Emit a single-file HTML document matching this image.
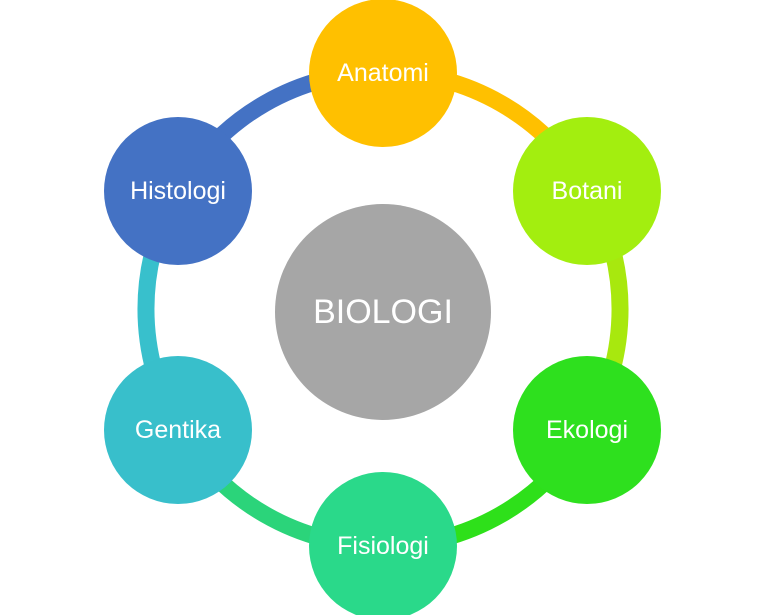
<!DOCTYPE html>
<html><head><meta charset="utf-8"><style>
html,body{margin:0;padding:0;background:#fff;}
svg{display:block}
text{font-family:"Liberation Sans",sans-serif;fill:#fff;text-anchor:middle;dominant-baseline:central}
</style></head><body>
<svg width="768" height="615" viewBox="0 0 768 615">
<g fill="none" stroke-width="17">
<path d="M383 72 A237 237 0 0 1 588 190" stroke="#FFC000"/>
<path d="M588 190 A237 237 0 0 1 588 428" stroke="#A8E80E"/>
<path d="M588 428 A237 237 0 0 1 383 546" stroke="#2EE01A"/>
<path d="M383 546 A237 237 0 0 1 178 428" stroke="#2BD47A"/>
<path d="M178 428 A237 237 0 0 1 178 190" stroke="#38C0CC"/>
<path d="M178 190 A237 237 0 0 1 383 72" stroke="#4472C4"/>
</g>
<circle cx="383" cy="312" r="108" fill="#A6A6A6"/>
<text x="383" y="312" font-size="34">BIOLOGI</text>
<circle cx="383" cy="73" r="74" fill="#FFC000"/>
<text x="383" y="73" font-size="25">Anatomi</text>
<circle cx="587" cy="191" r="74" fill="#A3EE0F"/>
<text x="587" y="191" font-size="25">Botani</text>
<circle cx="587" cy="430" r="74" fill="#2EE01E"/>
<text x="587" y="430" font-size="25">Ekologi</text>
<circle cx="383" cy="546" r="74" fill="#2AD98A"/>
<text x="383" y="546" font-size="25">Fisiologi</text>
<circle cx="178" cy="430" r="74" fill="#38BFCB"/>
<text x="178" y="430" font-size="25">Gentika</text>
<circle cx="178" cy="191" r="74" fill="#4472C4"/>
<text x="178" y="191" font-size="25">Histologi</text>
</svg>
</body></html>
